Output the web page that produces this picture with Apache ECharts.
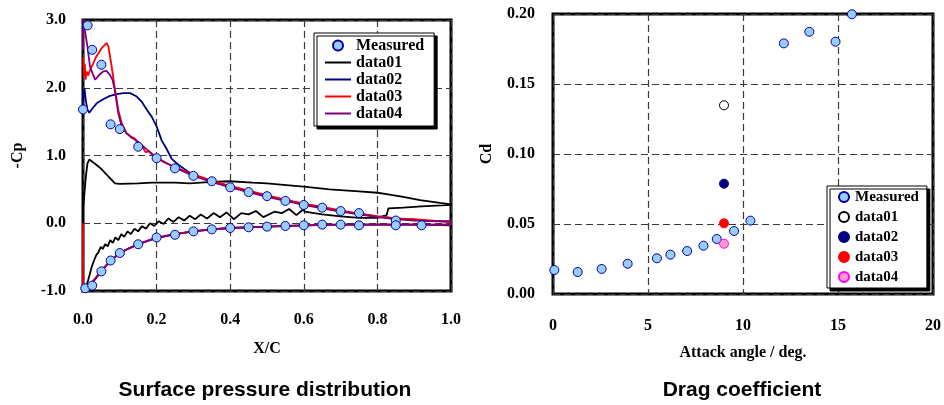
<!DOCTYPE html>
<html>
<head>
<meta charset="utf-8">
<script src="https://cdn.jsdelivr.net/npm/echarts@6/dist/echarts.min.js"></script>
<style>html,body{margin:0;padding:0;background:#fff;}#c{width:944px;height:405px;}</style>
</head>
<body>
<div id="c"></div>
<script>
// ---------- tick values ----------
const leftXTicks = [0.0, 0.2, 0.4, 0.6, 0.8, 1.0];
const leftYTicks = [-1.0, 0.0, 1.0, 2.0, 3.0];
const rightXTicks = [0, 5, 10, 15, 20];
const rightYTicks = [0.00, 0.05, 0.10, 0.15, 0.20];

// ---------- Surface pressure distribution: [X/C, -Cp] ----------
const measuredUpper = [[0.0,1.68],[0.0125,2.92],[0.025,2.56],[0.05,2.34],[0.075,1.46],[0.1,1.39],[0.15,1.13],[0.2,0.96],[0.25,0.81],[0.3,0.70],[0.35,0.62],[0.4,0.53],[0.45,0.46],[0.5,0.40],[0.55,0.33],[0.6,0.27],[0.65,0.23],[0.7,0.18],[0.75,0.15],[0.85,0.04]];
const measuredLower = [[0.006,-0.96],[0.025,-0.92],[0.05,-0.71],[0.075,-0.55],[0.1,-0.44],[0.15,-0.31],[0.2,-0.21],[0.25,-0.17],[0.3,-0.12],[0.35,-0.09],[0.4,-0.07],[0.45,-0.06],[0.5,-0.05],[0.55,-0.04],[0.6,-0.03],[0.65,-0.02],[0.7,-0.02],[0.75,-0.03],[0.85,-0.03],[0.92,-0.03]];

const data01Line = [[1.0,0.28],[0.97,0.30],[0.916,0.34],[0.87,0.39],[0.825,0.43],[0.8,0.45],[0.75,0.47],[0.67,0.50],[0.6,0.54],[0.56,0.56],[0.5,0.59],[0.46,0.60],[0.4,0.62],[0.35,0.61],[0.29,0.59],[0.25,0.60],[0.187,0.60],[0.15,0.59],[0.1,0.58],[0.087,0.59],[0.069,0.69],[0.05,0.80],[0.037,0.86],[0.025,0.91],[0.017,0.94],[0.012,0.88],[0.008,0.70],[0.004,0.45],[0.0,0.2],[0.0,-0.98],
  [0.006,-0.96],[0.012,-0.88],[0.018,-0.76],[0.024,-0.64],[0.03,-0.55],[0.036,-0.47],[0.042,-0.43],[0.048,-0.35],[0.054,-0.38],[0.06,-0.31],[0.067,-0.34],[0.074,-0.25],[0.081,-0.29],[0.088,-0.21],[0.096,-0.25],[0.104,-0.16],[0.112,-0.20],[0.121,-0.12],[0.13,-0.16],[0.14,-0.08],[0.15,-0.12],[0.16,-0.04],[0.171,-0.08],[0.182,0.0],[0.194,-0.04],[0.206,0.03],[0.219,-0.01],[0.232,0.07],[0.246,0.02],[0.26,0.09],[0.275,0.04],[0.29,0.11],[0.305,0.06],[0.32,0.13],[0.337,0.07],[0.355,0.15],[0.372,0.09],[0.39,0.16],[0.41,0.06],[0.43,0.15],[0.45,0.13],[0.47,0.18],[0.49,0.09],[0.52,0.17],[0.54,0.15],[0.56,0.21],[0.58,0.12],[0.6,0.21],[0.602,0.17],[0.65,0.13],[0.7,0.10],[0.75,0.08],[0.8,0.08],[0.825,0.12],[0.83,0.22],[0.87,0.23],[0.92,0.25],[0.96,0.26],[1.0,0.27]];

const data02Upper = [[1.0,0.02],[0.95,0.03],[0.9,0.05],[0.85,0.07],[0.8,0.10],[0.75,0.14],[0.7,0.18],[0.65,0.23],[0.6,0.28],[0.55,0.34],[0.5,0.40],[0.45,0.47],[0.4,0.54],[0.35,0.61],[0.33,0.65],[0.31,0.70],[0.286,0.76],[0.26,0.86],[0.241,0.95],[0.227,1.10],[0.214,1.22],[0.2,1.43],[0.187,1.57],[0.173,1.68],[0.16,1.79],[0.146,1.87],[0.128,1.92],[0.11,1.92],[0.096,1.91],[0.073,1.88],[0.055,1.83],[0.037,1.77],[0.025,1.69],[0.017,1.63],[0.012,1.68],[0.008,1.80],[0.004,1.99],[0.002,1.95],[0.0,1.78]];
const data02Lower = [[0.0,-1.0],[0.006,-0.97],[0.012,-0.94],[0.023,-0.89],[0.035,-0.81],[0.05,-0.70],[0.075,-0.55],[0.1,-0.44],[0.125,-0.37],[0.15,-0.31],[0.175,-0.26],[0.2,-0.22],[0.25,-0.16],[0.3,-0.12],[0.35,-0.09],[0.4,-0.07],[0.45,-0.06],[0.5,-0.05],[0.6,-0.03],[0.7,-0.02],[0.8,-0.02],[0.9,-0.02],[1.0,-0.03]];

const data03Upper = [[1.0,0.02],[0.95,0.04],[0.9,0.06],[0.85,0.07],[0.8,0.10],[0.75,0.14],[0.7,0.19],[0.65,0.24],[0.6,0.29],[0.55,0.35],[0.5,0.41],[0.45,0.48],[0.4,0.55],[0.35,0.63],[0.3,0.72],[0.25,0.83],[0.22,0.90],[0.2,0.96],[0.19,0.99],[0.18,1.06],[0.17,1.05],[0.16,1.14],[0.15,1.16],[0.141,1.25],[0.13,1.28],[0.118,1.33],[0.105,1.48],[0.096,1.67],[0.087,1.97],[0.078,2.31],[0.069,2.61],[0.064,2.66],[0.05,2.58],[0.042,2.51],[0.035,2.45],[0.028,2.36],[0.019,2.26],[0.014,2.18],[0.01,2.24],[0.007,2.12],[0.005,2.35],[0.003,2.16],[0.001,2.43],[0.0,2.45]];
const data03Lower = [[0.0,0.0],[0.0,-1.0],[0.006,-0.97],[0.012,-0.93],[0.023,-0.88],[0.035,-0.80],[0.05,-0.70],[0.06,-0.64],[0.075,-0.55],[0.09,-0.48],[0.1,-0.44],[0.125,-0.37],[0.15,-0.31],[0.175,-0.26],[0.2,-0.21],[0.25,-0.16],[0.3,-0.12],[0.35,-0.09],[0.4,-0.07],[0.45,-0.06],[0.5,-0.05],[0.6,-0.03],[0.7,-0.02],[0.8,-0.02],[0.9,-0.02],[1.0,-0.02]];

const data04Upper = [[1.0,0.03],[0.95,0.03],[0.9,0.04],[0.85,0.06],[0.8,0.09],[0.75,0.13],[0.7,0.17],[0.65,0.22],[0.6,0.27],[0.55,0.33],[0.5,0.39],[0.45,0.46],[0.4,0.53],[0.35,0.61],[0.3,0.70],[0.25,0.82],[0.2,0.97],[0.173,1.09],[0.146,1.22],[0.13,1.27],[0.118,1.33],[0.105,1.43],[0.096,1.62],[0.087,1.95],[0.08,2.12],[0.073,2.19],[0.064,2.25],[0.055,2.24],[0.046,2.20],[0.038,2.15],[0.033,2.12],[0.027,2.20],[0.019,2.31],[0.012,2.61],[0.008,2.75],[0.005,2.85],[0.003,3.0],[0.001,3.08],[0.0,2.55]];
const data04Lower = [[0.0,-1.0],[0.006,-0.97],[0.012,-0.95],[0.023,-0.90],[0.035,-0.81],[0.05,-0.71],[0.075,-0.55],[0.1,-0.44],[0.125,-0.37],[0.15,-0.31],[0.175,-0.26],[0.2,-0.22],[0.25,-0.16],[0.3,-0.12],[0.35,-0.09],[0.4,-0.07],[0.45,-0.06],[0.5,-0.05],[0.6,-0.03],[0.7,-0.02],[0.8,-0.02],[0.9,-0.02],[1.0,-0.02]];

// ---------- Drag coefficient: [attack angle (deg), Cd] ----------
const cdMeasured = [[0.07,0.0171],[1.30,0.0157],[2.56,0.0179],[3.93,0.0216],[5.47,0.0255],[6.18,0.0281],[7.06,0.0307],[7.92,0.0345],[8.62,0.0393],[9.53,0.0450],[10.39,0.0524],[12.15,0.1790],[13.49,0.1873],[14.87,0.1802],[15.73,0.1998]];
const cdData01 = [[9.0,0.1348]];
const cdData02 = [[9.0,0.0788]];
const cdData03 = [[9.0,0.0505]];
const cdData04 = [[9.0,0.0359]];

// ---------- styles ----------
const SERIF = "'Liberation Serif','Times New Roman',serif";
const SANS = "'Liberation Sans',Arial,sans-serif";
const gridLine = {show:true, lineStyle:{color:'#3a3a3a', width:1.2, type:[7,4]}};
function axisFrom(ticks, gridIndex, decimals, extra){
  return Object.assign({
    type:'value', gridIndex:gridIndex,
    min:ticks[0], max:ticks[ticks.length-1], interval:ticks[1]-ticks[0],
    axisLine:{show:false}, axisTick:{show:false},
    splitLine:gridLine,
    nameTextStyle:{color:'#000', fontFamily:SERIF, fontWeight:'bold', fontSize:16},
    nameLocation:'middle'
  }, extra, {axisLabel:Object.assign({color:'#000', fontFamily:SERIF, fontWeight:'bold', fontSize:16,
      formatter:v=>Number(v).toFixed(decimals)}, extra.axisLabel || {})});
}
const lineS = (name, data, color) => ({type:'line', name:name, xAxisIndex:0, yAxisIndex:0, data:data,
  symbol:'none', lineStyle:{color:color, width:1.8}, itemStyle:{color:color}, z:3});
const scatS = (name, data, fill, border, xi) => ({type:'scatter', name:name, xAxisIndex:xi, yAxisIndex:xi, data:data,
  symbol:'circle', symbolSize:9, itemStyle:{color:fill, borderColor:border, borderWidth:1, opacity:1}, z:5});

const LINE_ICON = 'path://M0,0 L26,0 L26,2 L0,2 Z';
const legendBase = {orient:'vertical', backgroundColor:'#fff', borderColor:'#000', borderWidth:1,
  shadowColor:'#000', shadowBlur:0, shadowOffsetX:3, shadowOffsetY:3, itemGap:0, selectedMode:false,
  formatter:n=>n.replace('_r','')};

const chart = echarts.init(document.getElementById('c'), null, {renderer:'canvas'});
chart.setOption({
  animation:false,
  backgroundColor:'#fff',
  grid:[
    {left:83, top:20, width:368, height:271, show:true, borderColor:'#000', borderWidth:3, backgroundColor:'transparent'},
    {left:553, top:14, width:380, height:280, show:true, borderColor:'#000', borderWidth:3, backgroundColor:'transparent'}
  ],
  xAxis:[
    axisFrom(leftXTicks, 0, 1, {name:'X/C', nameGap:50, axisLabel:{margin:21}}),
    axisFrom(rightXTicks, 1, 0, {name:'Attack angle / deg.', nameGap:51, axisLabel:{margin:24}})
  ],
  yAxis:[
    axisFrom(leftYTicks, 0, 1, {name:'-Cp', nameGap:57, axisLabel:{margin:17}}),
    axisFrom(rightYTicks, 1, 2, {name:'Cd', nameGap:58, axisLabel:{margin:18}})
  ],
  legend:[
    Object.assign({}, legendBase, {
      left:314, top:33, padding:[4,10,4,11], itemWidth:26, itemHeight:10, itemTextGap:5,
      textStyle:{color:'#000', fontFamily:SERIF, fontWeight:'bold', fontSize:16, lineHeight:17},
      data:[{name:'Measured', icon:'circle'},
            {name:'data01', icon:LINE_ICON},
            {name:'data02', icon:LINE_ICON},
            {name:'data03', icon:LINE_ICON},
            {name:'data04', icon:LINE_ICON}]}),
    Object.assign({}, legendBase, {
      left:827, top:186, padding:[1,8,1,11], itemWidth:12, itemHeight:10, itemTextGap:3,
      textStyle:{color:'#000', fontFamily:SERIF, fontWeight:'bold', fontSize:15, lineHeight:20},
      data:['Measured_r','data01_r','data02_r','data03_r','data04_r']})
  ],
  graphic:[
    {type:'text', style:{text:'Surface pressure distribution', x:265, y:390, align:'center', verticalAlign:'middle', font:"bold 21px "+SANS, fill:'#000'}},
    {type:'text', style:{text:'Drag coefficient', x:742, y:390, align:'center', verticalAlign:'middle', font:"bold 21px "+SANS, fill:'#000'}}
  ],
  series:[
    lineS('data01', data01Line, '#000000'),
    lineS('data02', data02Upper, '#000080'),
    lineS('data02', data02Lower, '#000080'),
    lineS('data03', data03Upper, '#ff0000'),
    lineS('data03', data03Lower, '#ff0000'),
    lineS('data04', data04Upper, '#800080'),
    lineS('data04', data04Lower, '#800080'),
    scatS('Measured', measuredUpper, '#99ccff', '#0000a0', 0),
    scatS('Measured', measuredLower, '#99ccff', '#0000a0', 0),
    scatS('Measured_r', cdMeasured, '#99ccff', '#0000a0', 1),
    scatS('data01_r', cdData01, '#ffffff', '#000000', 1),
    scatS('data02_r', cdData02, '#000080', '#000080', 1),
    scatS('data03_r', cdData03, '#ff0000', '#ff0000', 1),
    scatS('data04_r', cdData04, '#ff99cc', '#ff00ff', 1)
  ]
});
</script>
</body>
</html>
